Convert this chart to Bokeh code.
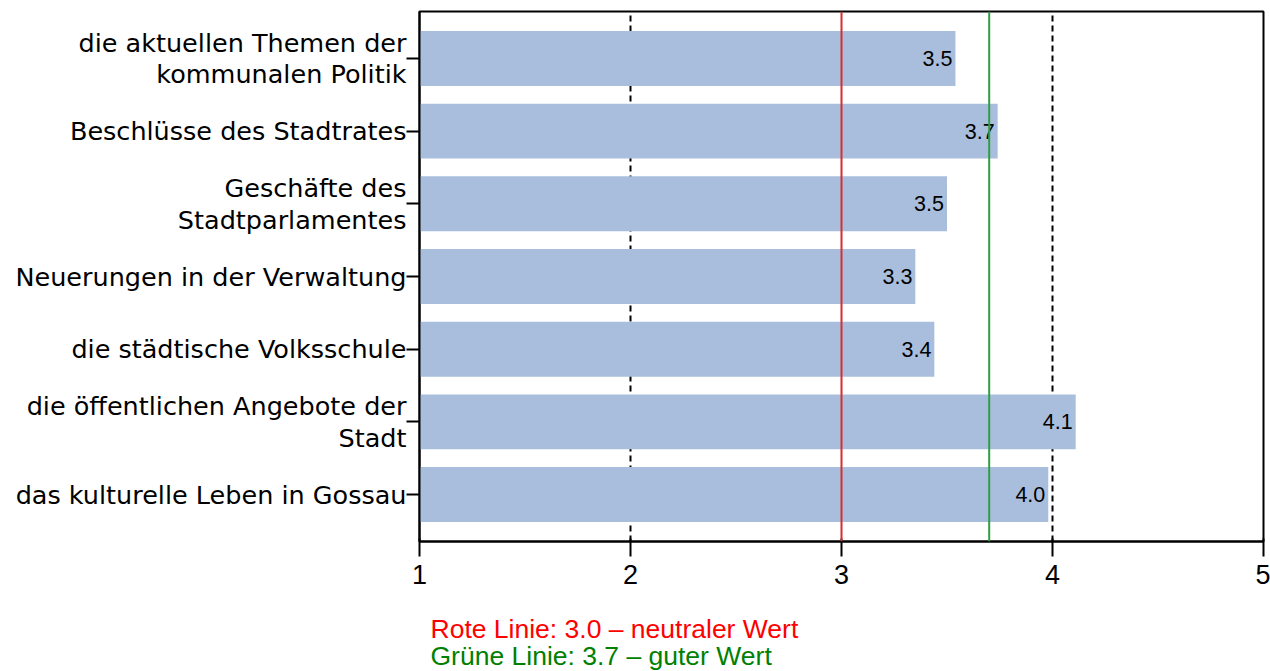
from bokeh.plotting import figure
from bokeh.models import FactorRange, Range1d, Span, Title, FixedTicker, ColumnDataSource
from bokeh.core.properties import value
from bokeh.embed import file_html
from bokeh.resources import INLINE

# ---- data ----
categories = [
    "die aktuellen Themen der\nkommunalen Politik",
    "Beschlüsse des Stadtrates",
    "Geschäfte des\nStadtparlamentes",
    "Neuerungen in der Verwaltung",
    "die städtische Volksschule",
    "die öffentlichen Angebote der\nStadt",
    "das kulturelle Leben in Gossau",
]
values = [3.54, 3.74, 3.50, 3.35, 3.44, 4.11, 3.98]
value_labels = ["3.5", "3.7", "3.5", "3.3", "3.4", "4.1", "4.0"]
x_ticks = [1, 2, 3, 4, 5]
grid_ticks = [2, 4]
neutral_value = 3.0
good_value = 3.7
note_red = "Rote Linie: 3.0 – neutraler Wert"
note_green = "Grüne Linie: 3.7 – guter Wert"

src = ColumnDataSource(dict(cat=categories, val=values, lab=value_labels))

p = figure(
    y_range=FactorRange(factors=list(reversed(categories)), range_padding=0.0417),
    x_range=Range1d(x_ticks[0], x_ticks[-1]),
    width=1270, height=671,
    min_border_left=419, min_border_right=7, min_border_top=11, min_border_bottom=130,
    output_backend="svg", toolbar_location=None,
)
p.background_fill_color = "white"
p.border_fill_color = "white"
p.outline_line_color = "black"
p.outline_line_width = 2

# grid
p.ygrid.grid_line_color = None
p.xgrid.ticker = FixedTicker(ticks=grid_ticks)
p.xgrid.grid_line_color = "black"
p.xgrid.grid_line_width = 2
p.xgrid.grid_line_dash = "6 4"

# bars
p.hbar(y="cat", right="val", left=x_ticks[0], height=0.756, source=src,
       fill_color="#a9bedc", line_color=None)

# value labels
p.text(x="val", y="cat", text="lab", source=src, text_align="right",
       text_baseline="middle", x_offset=-3, text_font=value("Liberation Sans"),
       text_font_size="21.5px", text_color="black")

# reference lines
p.add_layout(Span(location=neutral_value, dimension="height", line_color="#d62f2f", line_width=2))
p.add_layout(Span(location=good_value, dimension="height", line_color="#2e9e44", line_width=2))

# x axis
xa = p.xaxis[0]
xa.ticker = FixedTicker(ticks=x_ticks)
xa.axis_line_color = "black"
xa.axis_line_width = 2
xa.major_tick_line_color = "black"
xa.major_tick_line_width = 2
xa.major_tick_in = 3
xa.major_tick_out = 15
xa.minor_tick_line_color = None
xa.major_label_standoff = 8
xa.major_label_text_font = "Liberation Sans"
xa.major_label_text_font_size = "27px"
xa.major_label_text_color = "black"
# empty spacer label to push the notes further down
xa.axis_label = " "
xa.axis_label_standoff = 0
xa.axis_label_text_font_size = "20px"

# y axis
ya = p.yaxis[0]
ya.axis_line_color = "black"
ya.axis_line_width = 2
ya.major_tick_line_color = "black"
ya.major_tick_line_width = 2
ya.major_tick_in = 0
ya.major_tick_out = 13
ya.major_label_standoff = 0
ya.major_label_text_font = "DejaVu Sans"
ya.major_label_text_font_size = "25.5px"
ya.major_label_text_color = "black"
ya.major_label_text_line_height = 1.05

# notes below the chart
p.add_layout(Title(text=note_red, text_color="#ff0000", text_font="Liberation Sans",
                   text_font_size="26.5px", text_font_style="normal", align="left",
                   offset=11, standoff=0), "below")
p.add_layout(Title(text=note_green, text_color="#008000", text_font="Liberation Sans",
                   text_font_size="26.5px", text_font_style="normal", align="left",
                   offset=11, standoff=-10), "below")

open("out.html", "w").write(file_html(p, INLINE))
